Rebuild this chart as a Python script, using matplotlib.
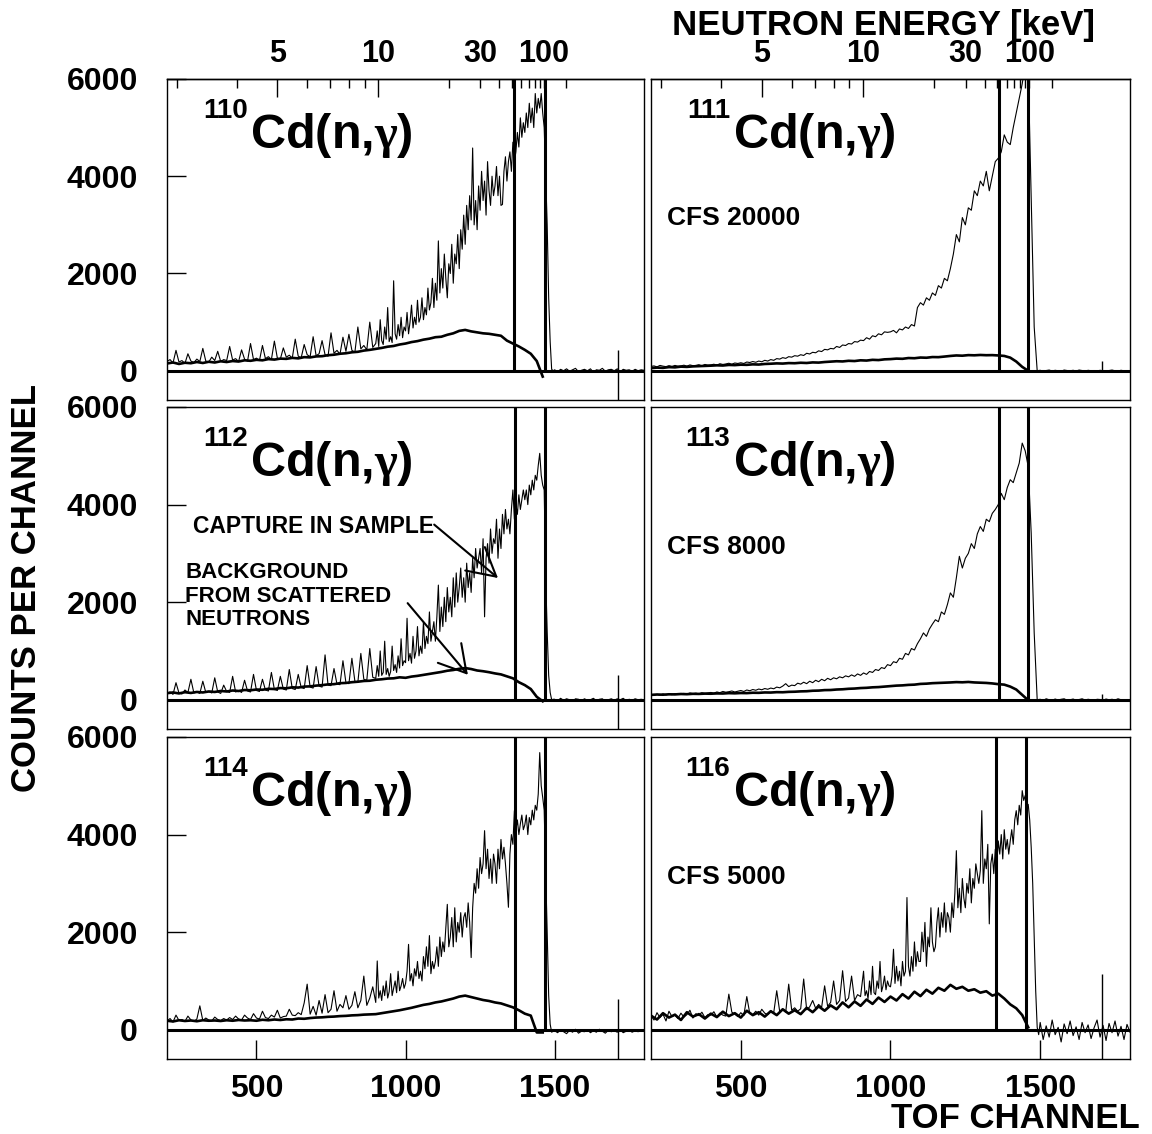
import numpy as np
import matplotlib
matplotlib.use('Agg')
import matplotlib.pyplot as plt

plt.rcParams['font.family'] = ['Liberation Sans', 'DejaVu Sans']
plt.rcParams['font.weight'] = 'bold'
plt.rcParams['mathtext.fontset'] = 'custom'
plt.rcParams['mathtext.rm'] = 'Liberation Sans:bold'
plt.rcParams['mathtext.bf'] = 'Liberation Sans:bold'
plt.rcParams['mathtext.it'] = 'Liberation Serif'

# Espectros (captura total), en tres tramos:
# _a: canales 200..890 cada 10, _b: 900..1495 cada 5 (o cada 10 en 111 y 113),
# _c: canales 1500..1800 cada 10
cap_110_a = [190, 230, 160, 420, 180, 210, 150, 350, 200, 170,
             240, 190, 460, 200, 180, 280, 210, 400, 190, 230,
             210, 500, 220, 250, 190, 430, 240, 200, 560, 230,
             260, 210, 520, 250, 290, 230, 610, 260, 240, 470,
             280, 320, 260, 650, 300, 270, 540, 330, 290, 700,
             310, 350, 620, 330, 300, 780, 360, 420, 340, 690,
             400, 750, 420, 380, 900, 450, 520, 430, 1000, 480]
cap_110_b = [560, 820, 500, 1050, 620, 540, 900, 650, 1300, 600,
             700, 580, 1850, 760, 650, 950, 720, 1100, 680, 900,
             820, 1200, 760, 1000, 1350, 880, 1100, 950, 1450, 1000,
             1100, 1500, 1050, 1300, 1150, 1700, 1250, 1400, 1900, 1300,
             1800, 1450, 2670, 1600, 2100, 1700, 2400, 1900, 1500, 2200,
             2000, 2600, 1800, 2400, 2200, 2800, 2100, 2900, 2500, 3200,
             2600, 3400, 2900, 3600, 3100, 4580, 3000, 3500, 2900, 3800,
             3300, 4100, 3500, 3900, 3200, 4300, 3700, 3400, 4000, 3600,
             3800, 4200, 3600, 4000, 3400, 3420, 4100, 4400, 3900, 4300,
             4500, 4100, 4700, 4300, 4500, 4900, 4600, 5200, 4800, 5100,
             4900, 5300, 5000, 5500, 5100, 5400, 5000, 5700, 5300, 5600,
             5400, 5700, 5300, 5000, 4000, 3000, 1500, 600, 30, 0]
cap_110_c = [20, -20, 30, 0, 40, -10, 20, 50, -20, 10,
             30, 0, 40, -30, 20, 10, 50, -10, 20, 30,
             0, 40, -20, 30, 10, 20, -10, 30, 0, 20,
             10]

cap_111_a = [90, 100, 80, 110, 95, 85, 105, 90, 110, 95,
             100, 115, 95, 120, 105, 110, 125, 100, 130, 115,
             120, 135, 115, 145, 130, 140, 155, 135, 160, 150,
             165, 150, 180, 170, 190, 175, 200, 185, 215, 200,
             230, 215, 250, 240, 270, 255, 290, 280, 310, 300,
             330, 315, 360, 345, 380, 370, 410, 395, 440, 430,
             460, 450, 500, 480, 530, 520, 560, 550, 600, 590]
cap_111_b = [630, 620, 680, 650, 720, 700, 760, 740, 800, 790,
             800, 830, 780, 860, 840, 900, 870, 950, 920, 1300,
             1400, 1350, 1500, 1450, 1600, 1550, 1750, 1700, 1900, 1850,
             2100, 2400, 2800, 2650, 3150, 3000, 3350, 3300, 3700, 3600,
             3900, 3800, 4100, 3700, 4000, 4300, 4370, 4500, 4850, 4700,
             4650, 5000, 5300, 5600, 5900, 6300, 6200, 3500, 900, 0]
cap_111_c = [10, -10, 5, 15, -5, 10, 0, -10, 15, 5,
             0, 10, -5, 15, 5, -10, 10, 0, 5, -5,
             10, 0, -10, 5, 15, 0, -5, 10, 0, 5,
             0]

cap_112_a = [130, 160, 110, 350, 140, 120, 200, 150, 420, 140,
             160, 130, 380, 150, 170, 140, 450, 160, 130, 300,
             170, 150, 480, 160, 190, 150, 400, 180, 160, 520,
             190, 170, 420, 200, 180, 560, 210, 190, 480, 220,
             200, 620, 230, 210, 520, 250, 230, 700, 260, 240,
             680, 280, 260, 920, 300, 290, 640, 320, 310, 800,
             350, 330, 850, 380, 360, 950, 420, 400, 1050, 460]
cap_112_b = [440, 700, 480, 1000, 500, 560, 1200, 520, 640, 480,
             580, 1100, 600, 720, 560, 900, 650, 1250, 700, 800,
             760, 1670, 800, 950, 750, 1300, 850, 1000, 1500, 900,
             1100, 950, 1600, 1050, 1300, 1150, 1800, 1200, 1400, 1600,
             1200, 1700, 2350, 1400, 1900, 1500, 2100, 1600, 2300, 1800,
             2100, 1700, 2500, 1900, 2600, 2000, 2300, 2700, 2100, 2500,
             2000, 2800, 2300, 2600, 2200, 2900, 2500, 3100, 2700, 2900,
             3100, 2600, 3300, 1700, 2900, 3200, 2800, 3500, 3000, 3300,
             3200, 3700, 2900, 3500, 3100, 3800, 3400, 3900, 3500, 3700,
             3400, 3900, 4300, 3700, 4000, 3800, 4200, 3900, 4100, 4300,
             4100, 4300, 4000, 4400, 4200, 4500, 4300, 4600, 4500, 4800,
             5050, 4600, 4400, 4300, 2500, 1400, 500, 150, 0, 10]
cap_112_c = [10, -20, 30, -10, 20, 0, -30, 20, 10, -20,
             20, -10, 0, 30, -20, 10, 20, -30, 0, 20,
             -10, 20, 0, 30, -20, 10, -10, 20, 0, 10,
             0]

cap_113_a = [100, 90, 110, 95, 120, 100, 115, 105, 125, 110,
             120, 130, 115, 140, 125, 135, 120, 145, 130, 140,
             150, 135, 160, 145, 170, 155, 165, 180, 160, 175,
             190, 170, 200, 185, 210, 195, 220, 205, 230, 215,
             240, 225, 260, 245, 280, 330, 270, 300, 290, 340,
             320, 360, 330, 380, 350, 400, 370, 420, 390, 440,
             410, 450, 430, 470, 450, 490, 470, 510, 480, 530]
cap_113_b = [500, 550, 520, 580, 560, 620, 600, 660, 640, 720,
             700, 780, 760, 850, 830, 950, 920, 1050, 1020, 1150,
             1250, 1370, 1300, 1450, 1550, 1640, 1600, 1800, 1750, 1950,
             2190, 2100, 2500, 2940, 2700, 2900, 3000, 3200, 3100, 3400,
             3550, 3450, 3700, 3650, 3820, 3900, 4000, 4230, 4100, 4350,
             4510, 4450, 4650, 4850, 5260, 5100, 4780, 3415, 1370, 0]
cap_113_c = [10, -15, 20, 0, -10, 15, -5, 10, 20, -10,
             0, 15, -10, 5, 20, -5, 10, 0, -15, 10,
             5, -10, 15, 0, 10, -5, 20, 0, -10, 5,
             0]

cap_114_a = [180, 230, 160, 300, 190, 210, 170, 280, 200, 170,
             220, 490, 190, 240, 200, 180, 260, 210, 190, 230,
             200, 250, 210, 280, 220, 200, 300, 240, 210, 330,
             240, 220, 380, 250, 230, 300, 260, 400, 240, 270,
             280, 420, 300, 290, 350, 310, 550, 935, 320, 480,
             300, 600, 340, 720, 350, 420, 800, 380, 520, 450,
             700, 420, 500, 780, 450, 600, 1100, 500, 650, 880]
cap_114_b = [560, 1410, 650, 800, 600, 900, 700, 1000, 650, 780,
             1150, 700, 850, 1000, 760, 1200, 800, 900, 1050, 850,
             950, 1200, 1750, 1000, 1150, 900, 1250, 1100, 1400, 1050,
             1200, 1000, 1500, 1250, 1700, 1300, 1930, 1150, 1400, 1250,
             1400, 1700, 1300, 1900, 1500, 1800, 1600, 2100, 2570, 1700,
             1900, 2300, 1700, 2500, 1800, 2200, 2000, 2400, 1900, 2300,
             2400, 2100, 2600, 2200, 1480, 2500, 3000, 2800, 3300, 2900,
             3530, 3200, 3400, 4080, 3300, 3700, 3100, 3500, 3000, 3600,
             3400, 3000, 3700, 3300, 3900, 3500, 3740, 3400, 3000, 2510,
             3600, 4000, 3800, 4490, 4100, 4300, 4000, 4220, 4400, 4100,
             4200, 4400, 4000, 4350, 4200, 4500, 4300, 4600, 4500, 4830,
             5680, 5000, 4760, 4500, 3200, 2000, 700, 115, -50, -30]
cap_114_c = [-20, -60, 0, -40, -80, -10, -50, 10, -70, -30,
             -40, 0, -60, -20, -50, 10, -30, -70, -10, -40,
             -20, -50, 0, -60, -30, -10, -50, -20, -40, 0,
             -30]

cap_116_a = [290, 200, 350, 250, 320, 180, 380, 270, 300, 230,
             340, 260, 310, 400, 240, 330, 290, 360, 250, 310,
             300, 370, 260, 340, 300, 280, 730, 360, 320, 270,
             350, 290, 680, 330, 310, 380, 300, 420, 340, 310,
             390, 350, 800, 370, 420, 360, 935, 400, 450, 380,
             430, 1040, 410, 470, 600, 440, 520, 460, 900, 480,
             560, 1000, 520, 600, 1210, 580, 650, 1100, 600, 720]
cap_116_b = [680, 950, 1200, 700, 800, 640, 1000, 720, 1300, 760,
             720, 1000, 850, 1400, 780, 900, 1100, 820, 1000, 900,
             880, 1100, 1650, 950, 1300, 1000, 1200, 900, 1400, 1100,
             1200, 2710, 1300, 1100, 1500, 1200, 1800, 1300, 1600, 1400,
             1400, 2000, 1600, 2200, 1300, 1900, 1700, 2500, 1800, 1600,
             1700, 2200, 2500, 1900, 2400, 2100, 2600, 2000, 2400, 2300,
             2000, 2600, 2300, 2800, 3670, 2500, 2900, 2400, 3100, 2700,
             2500, 3000, 2800, 3300, 2600, 3100, 2900, 3400, 3200, 3000,
             3260, 4490, 3000, 3500, 3300, 3800, 2170, 3400, 3600, 3200,
             3700, 3400, 3870, 3600, 4000, 3500, 4100, 3700, 3900, 3600,
             3870, 4100, 3800, 4300, 4490, 4200, 4600, 4400, 4900, 4700,
             4800, 4500, 4620, 4300, 3740, 3000, 1890, 800, 50, -100]
cap_116_c = [150, -200, 80, -150, 200, -100, 50, -250, 120, -80,
             180, -120, 60, -200, 150, -60, 100, -180, 40, 200,
             -150, 90, -220, 130, -60, 180, -130, 70, -200, 110,
             -50]

# Fondo de neutrones dispersados: canales 200..1460 cada 20
bkg_110 = [150, 170, 140, 165, 155, 180, 160, 185, 170, 195,
           180, 200, 190, 215, 205, 225, 215, 240, 230, 250,
           245, 265, 255, 280, 275, 295, 300, 320, 330, 350,
           360, 380, 390, 415, 430, 450, 470, 495, 510, 540,
           560, 590, 610, 640, 660, 690, 700, 740, 770, 820,
           840, 810, 790, 770, 760, 740, 720, 620, 560, 500,
           430, 350, 200, -120]
bkg_111 = [55, 65, 60, 75, 70, 85, 80, 90, 95, 100,
           105, 112, 108, 120, 116, 125, 122, 132, 128, 140,
           145, 152, 148, 158, 155, 165, 160, 172, 168, 180,
           188, 196, 192, 205, 200, 215, 210, 225, 220, 235,
           240, 250, 246, 262, 258, 272, 268, 282, 280, 292,
           305, 315, 310, 322, 318, 325, 320, 322, 315, 305,
           270, 190, 80, 0]
bkg_112 = [135, 150, 130, 155, 140, 160, 150, 170, 160, 180,
           170, 190, 180, 200, 195, 210, 205, 225, 220, 240,
           235, 255, 250, 270, 275, 290, 300, 315, 320, 340,
           345, 360, 370, 385, 390, 410, 420, 435, 440, 460,
           450, 475, 490, 510, 530, 550, 570, 595, 610, 635,
           650, 630, 600, 585, 565, 540, 520, 480, 440, 360,
           300, 220, 60, -30]
bkg_113 = [100, 108, 104, 112, 110, 118, 114, 122, 120, 126,
           124, 130, 128, 136, 132, 138, 136, 144, 142, 150,
           148, 156, 154, 162, 165, 172, 175, 185, 188, 198,
           200, 210, 215, 225, 230, 240, 245, 255, 260, 270,
           280, 290, 295, 305, 310, 325, 330, 340, 345, 350,
           355, 362, 358, 365, 355, 350, 345, 335, 320, 310,
           270, 210, 100, -10]
bkg_114 = [185, 170, 195, 180, 190, 175, 195, 185, 190, 180,
           195, 185, 200, 190, 195, 185, 205, 195, 210, 200,
           215, 210, 230, 225, 240, 250, 255, 265, 270, 280,
           285, 295, 300, 310, 315, 320, 340, 360, 380, 400,
           425, 450, 480, 510, 530, 560, 580, 610, 640, 680,
           700, 670, 640, 610, 590, 560, 540, 500, 460, 400,
           330, 290, -55, -55]
bkg_116 = [290, 210, 340, 250, 310, 200, 360, 270, 320, 230,
           330, 260, 370, 280, 340, 250, 390, 300, 360, 270,
           380, 300, 420, 330, 400, 320, 450, 360, 480, 390,
           500, 420, 560, 460, 580, 490, 620, 530, 660, 570,
           680, 600, 730, 640, 780, 690, 820, 740, 860, 800,
           920, 840, 880, 800, 830, 760, 790, 700, 740, 640,
           520, 440, 300, 50]

isotopos = ['110', '111', '112', '113', '114', '116']
tramo_a = [cap_110_a, cap_111_a, cap_112_a, cap_113_a, cap_114_a, cap_116_a]
tramo_b = [cap_110_b, cap_111_b, cap_112_b, cap_113_b, cap_114_b, cap_116_b]
tramo_c = [cap_110_c, cap_111_c, cap_112_c, cap_113_c, cap_114_c, cap_116_c]
paso_b = [5, 10, 5, 10, 5, 5]
fondos = [bkg_110, bkg_111, bkg_112, bkg_113, bkg_114, bkg_116]
cfs = [None, 'CFS 20000', None, 'CFS 8000', None, 'CFS 5000']

# Ventana de integracion (lineas verticales) y destello gamma
corte_bajo = [1365, 1363, 1366, 1364, 1366, 1354]
corte_alto = [1466, 1460, 1467, 1460, 1467, 1452]
flash_canal = [1711, 1705, 1711, 1705, 1711, 1705]
flash_max = [430, 200, 500, 120, 640, 1150]
flash_min = [-600, 0, -600, 0, -600, -600]

# Escala de energia (keV) en el eje superior
e_mayor = [5, 10]
e_menor = [3, 4, 6, 7, 8, 9, 20, 30, 40, 50, 60, 70, 80, 90, 100, 200]
T0 = 1721.0
K = 2574.0


def canal_de_energia(e):
    return T0 - K / np.sqrt(np.asarray(e, dtype=float))


fig = plt.figure(figsize=(11.52, 11.34), dpi=100)
izq = [0.1450, 0.5651]
ancho = [0.4141, 0.4158]
abajo = [0.6473, 0.3571, 0.0661]
alto = [0.2831, 0.2840, 0.2840]

for i in range(6):
    fila, col = i // 2, i % 2
    ax = fig.add_axes([izq[col], abajo[fila], ancho[col], alto[fila]])

    a, b, c = tramo_a[i], tramo_b[i], tramo_c[i]
    ch_a = 200 + 10 * np.arange(len(a))
    ch_b = 900 + paso_b[i] * np.arange(len(b))
    ch_c = 1500 + 10 * np.arange(len(c))
    ch_cap = np.concatenate([ch_a, ch_b, ch_c])
    cap = np.concatenate([a, b, c])
    bkg = fondos[i]
    ch_bkg = 200 + 20 * np.arange(len(bkg))

    ax.plot(ch_cap, cap, color='black', lw=0.8)
    ax.plot(ch_bkg, bkg, color='black', lw=1.9)
    ax.axhline(0, color='black', lw=2.2)
    ax.vlines([corte_bajo[i], corte_alto[i]], 0, 6000, color='black', lw=2.2)
    ax.vlines(flash_canal[i], flash_min[i], flash_max[i], color='black', lw=1.0)

    ax.set_xlim(200, 1800)
    ax.set_ylim(-600, 6000)
    for s in ax.spines.values():
        s.set_linewidth(1.0)

    if col == 0:
        ax.set_yticks([0, 2000, 4000, 6000])
        ax.set_yticklabels(['0', '2000', '4000', '6000'])
    else:
        ax.set_yticks([])
    if fila == 2:
        ax.set_xticks([500, 1000, 1500])
        ax.set_xticklabels(['500', '1000', '1500'])
    else:
        ax.set_xticks([])
    ax.tick_params(axis='y', direction='in', length=14, width=1, labelsize=23, pad=21)
    ax.tick_params(axis='x', direction='in', length=14, width=1, labelsize=23, pad=11)

    if fila == 0:
        sec = ax.secondary_xaxis('top')
        sec.set_xticks(canal_de_energia(e_mayor), labels=[str(e) for e in e_mayor])
        etiquetas = [str(e) if e in (30, 100) else '' for e in e_menor]
        sec.set_xticks(canal_de_energia(e_menor), labels=etiquetas, minor=True)
        sec.tick_params(which='both', direction='in', labelsize=22, pad=7, width=1)
        sec.tick_params(which='major', length=13)
        sec.tick_params(which='minor', length=6.5)
        sec.spines['top'].set_linewidth(1.0)

    xs = 0.170 if col == 0 else 0.165
    xm = 0.174 if col == 0 else 0.171
    ax.text(xs, 0.879, isotopos[i], transform=ax.transAxes, fontsize=20,
            fontweight='bold', ha='right', va='baseline')
    ax.text(xm, 0.786, r'Cd(n,$\gamma$)', transform=ax.transAxes, fontsize=35,
            fontweight='bold', ha='left', va='baseline')

    if cfs[i]:
        ax.text(0.033, 0.545, cfs[i], transform=ax.transAxes, fontsize=19,
                fontweight='bold', ha='left', va='baseline')

    if i == 2:
        ax.text(0.055, 0.608, 'CAPTURE IN SAMPLE', transform=ax.transAxes,
                fontsize=16.5, fontweight='bold', va='baseline')
        for yy, txt in zip([0.468, 0.396, 0.323],
                           ['BACKGROUND', 'FROM SCATTERED', 'NEUTRONS']):
            ax.text(0.038, yy, txt, transform=ax.transAxes, fontsize=16,
                    fontweight='bold', va='baseline')
        ax.annotate('', xy=(1310, 2495), xytext=(1096, 3590),
                    arrowprops=dict(arrowstyle='->,head_length=2.0,head_width=1.1',
                                    lw=1.5, color='black', shrinkA=0, shrinkB=0,
                                    mutation_scale=10))
        ax.annotate('', xy=(1209, 512), xytext=(1007, 1980),
                    arrowprops=dict(arrowstyle='->,head_length=1.9,head_width=1.1',
                                    lw=1.5, color='black', shrinkA=0, shrinkB=0,
                                    mutation_scale=10))

fig.text(1095 / 1152, 1 - 35 / 1134, 'NEUTRON ENERGY [keV]', fontsize=25,
         fontweight='bold', ha='right', va='baseline')
fig.text(1140 / 1152, 1 - 1128 / 1134, 'TOF CHANNEL', fontsize=25,
         fontweight='bold', ha='right', va='baseline')
fig.text(27 / 1152, 1 - 588 / 1134, 'COUNTS PER CHANNEL', fontsize=25,
         fontweight='bold', rotation=90, ha='center', va='center')

fig.savefig('out.png', dpi=100)
